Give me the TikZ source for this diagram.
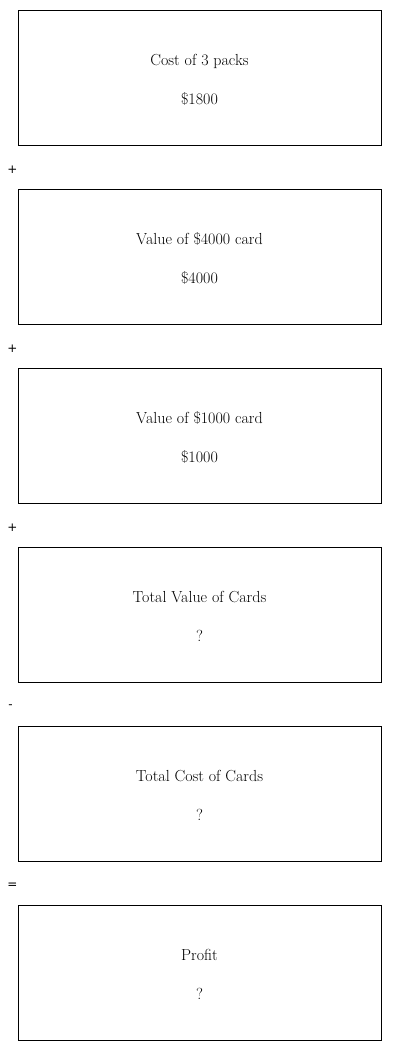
\documentclass[tikz,border=0pt]{standalone}
\usepackage{fontspec}
\usepackage{tikz}
\usetikzlibrary{positioning}
\newfontfamily\opfont{DejaVu Sans}
\tikzset{
  calcbox/.style={draw=black, line width=0.9pt, minimum width=363pt,
        minimum height=135pt, align=center, inner sep=0pt,
        font=\fontsize{16}{39}\selectfont},
  opsign/.style={font=\opfont\fontsize{12}{14}\selectfont, inner sep=0pt}
}

\begin{document}
\begin{tikzpicture}[x=1pt, y=-1pt]
\useasboundingbox (0,0) rectangle (400,1051);

% boxes, text lowered a little
\node[calcbox] (packs) at (199.5,77.5)  {};
\node[calcbox] (big)   at (199.5,256.5) {};
\node[calcbox] (small) at (199.5,435.5) {};
\node[calcbox] (total) at (199.5,614.5) {};
\node[calcbox] (cost)  at (199.5,793.5) {};
\node[calcbox] (profit) at (199.5,972.5) {};

\node[calcbox, draw=none] (packsT) at ([yshift=-2pt]packs.center) {Cost of 3 packs\\ \$1800};
\node[calcbox, draw=none] (bigT)   at ([yshift=-2pt]big.center) {Value of \$4000 card\\ \$4000};
\node[calcbox, draw=none] (smallT) at ([yshift=-2pt]small.center) {Value of \$1000 card\\ \$1000};
\node[calcbox, draw=none] (totalT) at ([yshift=-2pt]total.center) {Total Value of Cards\\ ?};
\node[calcbox, draw=none] (costT)  at ([yshift=-2pt]cost.center) {Total Cost of Cards\\ ?};
\node[calcbox, draw=none] (profitT) at ([yshift=-2pt]profit.center) {Profit\\ ?};

\node[opsign] (plusA) at (12.5,170) {+};
\node[opsign] (plusB) at (12.5,349) {+};
\node[opsign] (plusC) at (12.5,528) {+};
\node[opsign] (minus) at (10.5,707) {-};
\node[opsign] (equal) at (12.5,886) {=};
\end{tikzpicture}
\end{document}
